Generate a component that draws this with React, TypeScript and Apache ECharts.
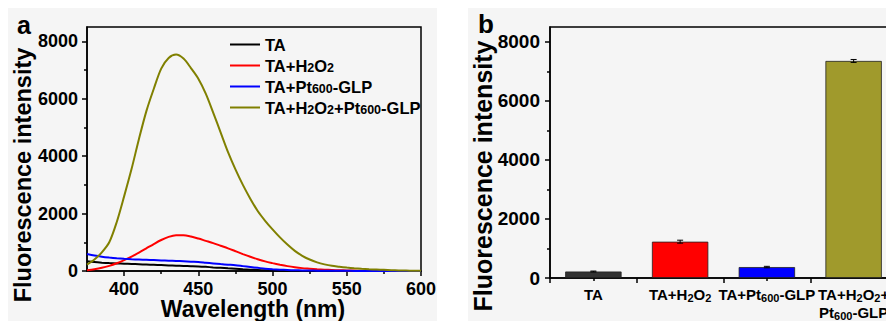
import React, { useEffect, useRef } from 'react';
import * as echarts from 'echarts';

const wavelength = [375, 380, 385, 390, 395, 400, 405, 410, 415, 420, 425, 430, 435, 440, 445, 450, 455, 460, 465, 470, 475, 480, 485, 490, 495, 500, 505, 510, 515, 520, 525, 530, 535, 540, 545, 550, 555, 560, 565, 570, 575, 580, 585, 590, 595, 600];
const taSpectrum = [340, 310, 290, 275, 265, 255, 245, 235, 225, 215, 205, 195, 185, 175, 168, 160, 145, 125, 110, 95, 80, 60, 45, 35, 25, 15, 10, 5, 3, 2, 1, 0, 0, 0, 0, 0, 0, 0, 0, 0, 0, 0, 0, 0, 0, 0];
const taH2O2Spectrum = [25, 60, 110, 180, 270, 380, 500, 640, 790, 940, 1080, 1190, 1245, 1245, 1200, 1130, 1050, 970, 880, 790, 690, 590, 495, 410, 335, 275, 220, 170, 130, 100, 80, 60, 45, 35, 25, 20, 15, 10, 8, 5, 4, 3, 2, 2, 1, 1];
const taPtSpectrum = [590, 540, 500, 470, 445, 425, 410, 400, 390, 380, 370, 360, 350, 340, 325, 315, 290, 265, 240, 220, 200, 170, 140, 110, 80, 60, 45, 35, 25, 20, 15, 12, 10, 8, 6, 5, 4, 3, 2, 2, 1, 1, 0, 0, 0, 0];
const taH2O2PtSpectrum = [220, 400, 650, 1000, 1700, 2600, 3550, 4600, 5570, 6350, 7050, 7420, 7540, 7400, 7070, 6700, 6180, 5520, 4830, 4140, 3540, 3000, 2520, 2090, 1750, 1450, 1170, 920, 700, 530, 400, 300, 230, 180, 150, 120, 95, 75, 60, 50, 40, 30, 20, 15, 10, 8];

const spectrumNames = ['TA', 'TA+H2O2', 'TA+Pt600-GLP', 'TA+H2O2+Pt600-GLP'];
const lineColors = ['#000000', '#ff0000', '#0000ff', '#808000'];

const barCategories = ['TA', 'TA+H2O2', 'TA+Pt600-GLP', 'TA+H2O2+\nPt600-GLP'];
const barValues = [220, 1230, 370, 7350];
const barErrors = [15, 50, 25, 50];
const barColors = ['#333333', '#ff0000', '#0000ff', '#a09a2c'];

const yMajorTicks = [0, 2000, 4000, 6000, 8000];
const yMinorTicks = [1000, 3000, 5000, 7000];
const xMajorTicks = [400, 450, 500, 550, 600];
const xMinorTicks = [425, 475, 525, 575];

const FONT = 'Liberation Sans, Arial, Helvetica, sans-serif';

function toRich(text: string): string {
  return text
    .split('\n')
    .map((line) =>
      line
        .split(/(H2O2|Pt600)/)
        .filter(Boolean)
        .map((p) =>
          p === 'H2O2'
            ? '{b|H}{s|2}{b|O}{s|2}'
            : p === 'Pt600'
            ? '{b|Pt}{s|600}'
            : `{b|${p}}`
        )
        .join('')
    )
    .join('\n');
}

function richStyle(big: number, small: number, lh: number) {
  return {
    b: { fontSize: big, fontWeight: 'bold', fontFamily: FONT, color: '#000', lineHeight: lh },
    s: { fontSize: small, fontWeight: 'bold', fontFamily: FONT, color: '#000', lineHeight: lh - 4, verticalAlign: 'bottom' },
  };
}

const axisLineStyle = { color: '#000', width: 1.5 };
const plain = (v: number) => String(v);

export default function App() {
  const ref = useRef<HTMLDivElement>(null);
  useEffect(() => {
    document.body.style.margin = '0';
    if (!ref.current) return;
    const chart = echarts.init(ref.current, undefined, { renderer: 'svg' });
    const spectra = [taSpectrum, taH2O2Spectrum, taPtSpectrum, taH2O2PtSpectrum];

    const tickLabel = { fontSize: 18, lineHeight: 16, fontWeight: 'bold', fontFamily: FONT, color: '#000', formatter: plain };

    const option: any = {
      animation: false,
      backgroundColor: '#ffffff',
      graphic: [
        { type: 'rect', z: -10, silent: true, shape: { x: 8, y: 8, width: 429, height: 313 }, style: { fill: '#f5f5f5' } },
        { type: 'rect', z: -10, silent: true, shape: { x: 468, y: 8, width: 440, height: 313 }, style: { fill: '#f5f5f5' } },
        { type: 'text', x: 24, y: 25, style: { text: 'a', font: `bold 25px ${FONT}`, fill: '#000', textAlign: 'center', textVerticalAlign: 'middle' } },
        { type: 'text', x: 486, y: 24, style: { text: 'b', font: `bold 26px ${FONT}`, fill: '#000', textAlign: 'center', textVerticalAlign: 'middle' } },
        { type: 'text', x: 23, y: 175, rotation: Math.PI / 2, style: { text: 'Fluorescence intensity', font: `bold 23.5px ${FONT}`, fill: '#000', textAlign: 'center', textVerticalAlign: 'middle' } },
        { type: 'text', x: 483, y: 176, rotation: Math.PI / 2, style: { text: 'Fluorescence intensity', font: `bold 25px ${FONT}`, fill: '#000', textAlign: 'center', textVerticalAlign: 'middle' } },
        { type: 'text', x: 253, y: 309, style: { text: 'Wavelength (nm)', font: `bold 23px ${FONT}`, lineHeight: 22, fill: '#000', textAlign: 'center', textVerticalAlign: 'middle' } },
      ],
      legend: {
        data: spectrumNames,
        orient: 'vertical',
        left: 225,
        top: 31,
        itemWidth: 30,
        itemHeight: 14,
        itemGap: 4,
        icon: 'path://M0,6 L30,6 L30,8 L0,8 Z',
        formatter: (name: string) => toRich(name),
        textStyle: { rich: richStyle(16.5, 12.5, 17), padding: [0, 0, 0, 0] },
        selectedMode: false,
      },
      grid: [
        { left: 87, top: 27, width: 334, height: 244, show: true, borderColor: '#000', borderWidth: 1.5, backgroundColor: 'transparent' },
        { left: 550, top: 27, width: 347, height: 253, show: true, borderColor: '#000', borderWidth: 1.5, backgroundColor: 'transparent' },
      ],
      xAxis: [
        {
          gridIndex: 0, type: 'value', min: 375, max: 600, position: 'bottom',
          axisLine: { show: true, lineStyle: axisLineStyle },
          axisTick: { show: true, customValues: xMajorTicks, length: 5, lineStyle: axisLineStyle },
          axisLabel: { ...tickLabel, customValues: xMajorTicks, margin: 10 },
          splitLine: { show: false },
        },
        {
          gridIndex: 0, type: 'value', min: 375, max: 600, position: 'bottom',
          axisLine: { show: false },
          axisTick: { show: true, customValues: xMinorTicks, length: 3, lineStyle: axisLineStyle },
          axisLabel: { show: false },
          splitLine: { show: false },
        },
        {
          gridIndex: 1, type: 'category', data: barCategories, position: 'bottom',
          axisLine: { show: true, lineStyle: axisLineStyle },
          axisTick: { show: true, alignWithLabel: false, length: 5, lineStyle: axisLineStyle },
          axisLabel: { interval: 0, hideOverlap: false, margin: 7, formatter: (v: string) => toRich(v), rich: richStyle(15, 11, 18) },
          splitLine: { show: false },
        },
        {
          gridIndex: 1, type: 'category', data: barCategories, position: 'bottom',
          axisLine: { show: false },
          axisTick: { show: true, alignWithLabel: true, length: 3, lineStyle: axisLineStyle },
          axisLabel: { show: false },
          splitLine: { show: false },
        },
      ],
      yAxis: [
        {
          gridIndex: 0, type: 'value', min: 0, max: 8500, position: 'left',
          axisLine: { show: true, lineStyle: axisLineStyle },
          axisTick: { show: true, customValues: yMajorTicks, length: 5, lineStyle: axisLineStyle },
          axisLabel: { ...tickLabel, customValues: yMajorTicks, margin: 9 },
          splitLine: { show: false },
        },
        {
          gridIndex: 0, type: 'value', min: 0, max: 8500, position: 'left',
          axisLine: { show: false },
          axisTick: { show: true, customValues: yMinorTicks, length: 3, lineStyle: axisLineStyle },
          axisLabel: { show: false },
          splitLine: { show: false },
        },
        {
          gridIndex: 1, type: 'value', min: 0, max: 8500, position: 'left',
          axisLine: { show: true, lineStyle: axisLineStyle },
          axisTick: { show: true, customValues: yMajorTicks, length: 5, lineStyle: axisLineStyle },
          axisLabel: { ...tickLabel, fontSize: 19, customValues: yMajorTicks, margin: 10 },
          splitLine: { show: false },
        },
        {
          gridIndex: 1, type: 'value', min: 0, max: 8500, position: 'left',
          axisLine: { show: false },
          axisTick: { show: true, customValues: yMinorTicks, length: 3, lineStyle: axisLineStyle },
          axisLabel: { show: false },
          splitLine: { show: false },
        },
      ],
      series: [
        ...spectrumNames.map((name, k) => ({
          name,
          type: 'line',
          xAxisIndex: 0,
          yAxisIndex: 0,
          symbol: 'none',
          smooth: 0.3,
          color: lineColors[k],
          lineStyle: { color: lineColors[k], width: 2 },
          data: wavelength.map((w, i) => [w, spectra[k][i]]),
        })),
        {
          name: 'Fluorescence intensity',
          type: 'bar',
          xAxisIndex: 2,
          yAxisIndex: 2,
          barWidth: '65%',
          data: barValues.map((v, i) => ({ value: v, itemStyle: { color: barColors[i], borderColor: '#222', borderWidth: 0.8 } })),
        },
        {
          name: 'Error',
          type: 'custom',
          xAxisIndex: 2,
          yAxisIndex: 2,
          z: 5,
          encode: { x: 0, y: [1, 2] },
          data: barValues.map((v, i) => [i, v - barErrors[i], v + barErrors[i]]),
          renderItem: (params: any, api: any) => {
            const lo = api.coord([api.value(0), api.value(1)]);
            const hi = api.coord([api.value(0), api.value(2)]);
            const w = 3;
            const st = { stroke: '#000', lineWidth: 1 };
            return {
              type: 'group',
              children: [
                { type: 'line', shape: { x1: lo[0], y1: lo[1], x2: hi[0], y2: hi[1] }, style: st },
                { type: 'line', shape: { x1: lo[0] - w, y1: lo[1], x2: lo[0] + w, y2: lo[1] }, style: st },
                { type: 'line', shape: { x1: hi[0] - w, y1: hi[1], x2: hi[0] + w, y2: hi[1] }, style: st },
              ],
            };
          },
        },
      ],
    };
    chart.setOption(option);
    return () => chart.dispose();
  }, []);
  return (
    <div style={{ position: 'fixed', left: 0, top: 0, width: 886, height: 321, overflow: 'hidden' }}>
      <div ref={ref} style={{ width: 905, height: 321 }} />
    </div>
  );
}
